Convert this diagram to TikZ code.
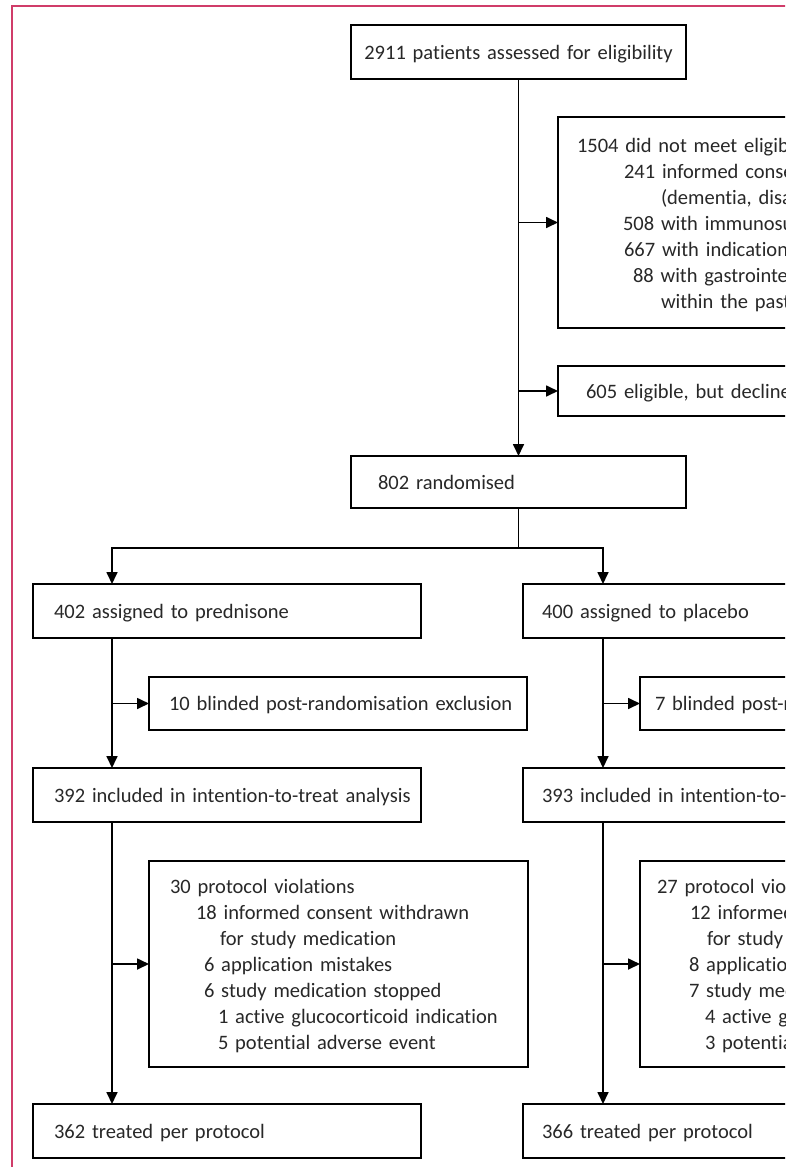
\documentclass[tikz,border=0pt]{standalone}
\usepackage{fontspec}
\setmainfont[Ligatures=CommonOff]{Carlito}
\usetikzlibrary{arrows.meta}
\definecolor{framecol}{RGB}{208,60,105}
\definecolor{ink}{RGB}{40,40,40}
\newcommand\myind[1]{\hspace*{#1pt}}
\newcommand\myfont{\fontsize{20.5}{26}\selectfont\spaceskip=3.2pt plus 1pt minus 0.5pt\relax}
\newcommand\mystrut{\leavevmode\vrule width 0pt height 19pt depth 5pt\relax}
\tikzset{
  box/.style={draw=black, line width=1.7pt, rectangle, anchor=north west,
    inner sep=0pt, outer sep=0pt, align=left, text=ink,
    font=\myfont, execute at begin node=\mystrut},
  link/.style={line width=1.7pt, draw=black},
  arr/.style={link, -{Triangle[length=12pt,width=11pt]}},
}
\begin{document}
\begin{tikzpicture}[x=1pt,y=-1pt]
\clip (0,0) rectangle (785,1167);
\fill[white] (0,0) rectangle (785,1167);
\draw[framecol, line width=2.5pt] (12,1190) -- (12,6) -- (800,6);

% top part
\node[box, align=center, text width=335pt, minimum height=54pt] (screen) at (351,25)
  {2911 patients assessed for eligibility};
\node[box, text width=500pt, minimum height=211pt] (excl) at (558,117)
  {\myind{19}1504 did not meet eligibility\\
   \myind{66}241 informed consent\\
   \myind{103}(dementia, disabled)\\
   \myind{65}508 with immunosuppression\\
   \myind{66}667 with indication\\
   \myind{75}88 with gastrointestinal\\
   \myind{103}within the past};
\node[box, text width=500pt, minimum height=50pt] (declined) at (558,366)
  {\myind{28}605 eligible, but declined};
\node[box, text width=335pt, minimum height=52pt] (rand) at (351,456)
  {\myind{27}802 randomised};

% left arm
\node[box, text width=388pt, minimum height=54pt] (pred) at (33,584)
  {\myind{21}402 assigned to prednisone};
\node[box, text width=378pt, minimum height=53pt] (exl) at (149,677)
  {\myind{20}10 blinded post-randomisation exclusion};
\node[box, text width=388pt, minimum height=54pt] (ittl) at (33,768)
  {\myind{21}392 included in intention-to-treat analysis};
\node[box, text width=379pt, minimum height=206pt] (protl) at (149,861)
  {\myind{21}30 protocol violations\\
   \myind{47}18 informed consent withdrawn\\
   \myind{71}for study medication\\
   \myind{55}6 application mistakes\\
   \myind{55}6 study medication stopped\\
   \myind{69}1 active glucocorticoid indication\\
   \myind{69}5 potential adverse event};
\node[box, text width=388pt, minimum height=54pt] (tppl) at (33,1104)
  {\myind{21}362 treated per protocol};

% right arm
\node[box, text width=500pt, minimum height=54pt] (plac) at (523,584)
  {\myind{19}400 assigned to placebo};
\node[box, text width=500pt, minimum height=53pt] (exr) at (640,677)
  {\myind{15}7 blinded post-randomisation};
\node[box, text width=500pt, minimum height=54pt] (ittr) at (523,768)
  {\myind{19}393 included in intention-to-treat};
\node[box, text width=500pt, minimum height=206pt] (protr) at (640,861)
  {\myind{17}27 protocol violations\\
   \myind{50}12 informed\\
   \myind{67}for study\\
   \myind{49}8 application\\
   \myind{49}7 study medication\\
   \myind{65}4 active glucocorticoid\\
   \myind{65}3 potential};
\node[box, text width=500pt, minimum height=54pt] (tppr) at (523,1104)
  {\myind{19}366 treated per protocol};

% connectors
\coordinate (L) at (112,548);
\coordinate (R) at (603,548);
\draw[arr] (screen.south) -- (rand.north);
\draw[arr] (screen.south |- excl.west) -- (excl.west);
\draw[arr] (screen.south |- declined.west) -- (declined.west);
\draw[arr] (rand.south) |- (L) -- (L |- pred.north);
\draw[arr] (rand.south |- R) -- (R) -- (R |- plac.north);

\draw[arr] (L |- pred.south) -- (L |- ittl.north);
\draw[arr] (L |- exl.west) -- (exl.west);
\draw[arr] (L |- ittl.south) -- (L |- tppl.north);
\draw[arr] (L |- protl.west) -- (protl.west);

\draw[arr] (R |- plac.south) -- (R |- ittr.north);
\draw[arr] (R |- exr.west) -- (exr.west);
\draw[arr] (R |- ittr.south) -- (R |- tppr.north);
\draw[arr] (R |- protr.west) -- (protr.west);
\end{tikzpicture}
\end{document}
